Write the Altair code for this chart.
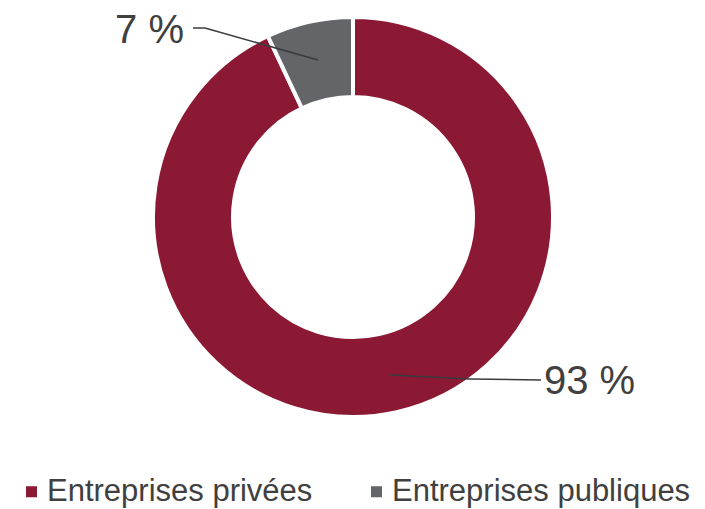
import altair as alt
import pandas as pd

categories = ["Entreprises privées", "Entreprises publiques"]
values = [93, 7]
labels = ["93 %", "7 %"]
colors = ["#8B1934", "#636568"]

df = pd.DataFrame({"cat": categories, "val": values, "label": labels, "order": [0, 1]})

CX, CY = 345, 209
LINE = "#3a3c3f"
TXT = "#404040"

base = alt.Chart(df)

arc = base.mark_arc(radius=200, radius2=120, stroke="white", strokeWidth=4).encode(
    theta=alt.Theta("val:Q", stack=True),
    order=alt.Order("order:Q"),
    color=alt.Color(
        "cat:N",
        scale=alt.Scale(domain=categories, range=colors),
        sort=categories,
        legend=alt.Legend(
            title=None,
            orient="none",
            direction="horizontal",
            legendX=8,
            legendY=468,
            symbolType="square",
            symbolSize=121,
            symbolStrokeWidth=0,
            labelFontSize=31,
            labelFont="Liberation Sans",
            labelColor=TXT,
            labelOffset=0,
            columnPadding=48,
            labelLimit=400,
        ),
    ),
    x=alt.value(CX),
    y=alt.value(CY),
)

pub = base.transform_filter(alt.datum.cat == categories[1])
priv = base.transform_filter(alt.datum.cat == categories[0])

leads = [
    pub.mark_rule(color=LINE, strokeWidth=1.5).encode(
        x=alt.value(185), y=alt.value(20), x2=alt.value(197), y2=alt.value(20)),
    pub.mark_rule(color=LINE, strokeWidth=1.5).encode(
        x=alt.value(197), y=alt.value(20), x2=alt.value(310), y2=alt.value(52)),
    priv.mark_rule(color=LINE, strokeWidth=1.5).encode(
        x=alt.value(382), y=alt.value(367), x2=alt.value(462), y2=alt.value(371)),
    priv.mark_rule(color=LINE, strokeWidth=1.5).encode(
        x=alt.value(462), y=alt.value(371), x2=alt.value(533), y2=alt.value(372)),
]

txt_pub = pub.mark_text(
    fontSize=40, font="Liberation Sans", color=TXT, align="right", baseline="middle"
).encode(text="label:N", x=alt.value(176), y=alt.value(23))

txt_priv = priv.mark_text(
    fontSize=40, font="Liberation Sans", color=TXT, align="left", baseline="middle"
).encode(text="label:N", x=alt.value(536), y=alt.value(374))

chart = alt.layer(arc, *leads, txt_pub, txt_priv).properties(
    width=689, height=500, autosize=alt.AutoSizeParams(type="none"), padding=0
).configure_view(stroke=None)

chart.save("out.html", embed_options={"renderer": "svg", "actions": False})
